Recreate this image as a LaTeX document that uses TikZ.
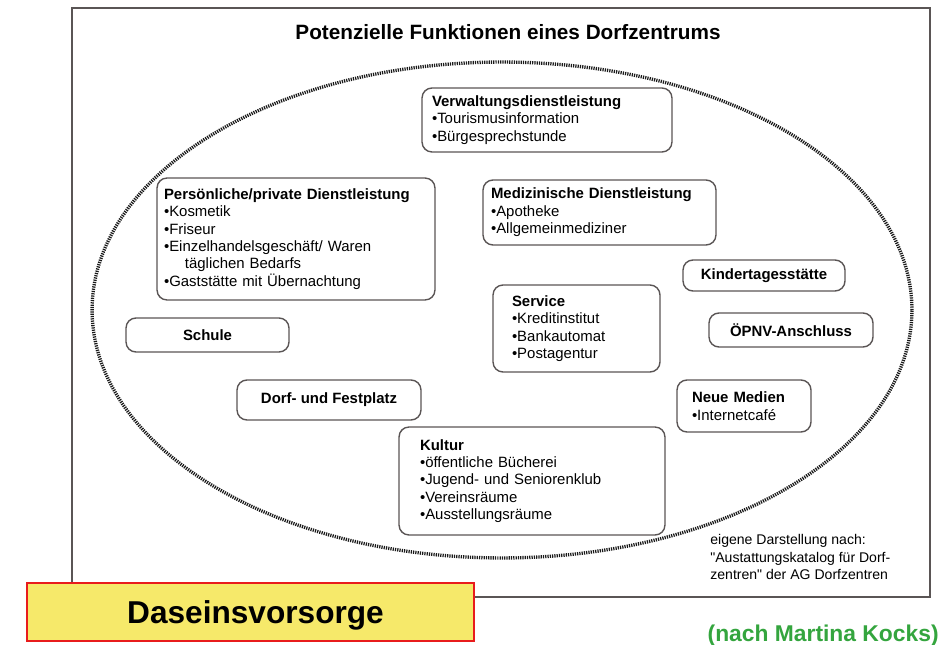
\documentclass[tikz,border=0pt]{standalone}
\usepackage{fontspec}
\setmainfont{Liberation Sans}
\usetikzlibrary{shapes.geometric,positioning}
\definecolor{boxline}{RGB}{90,85,85}
\definecolor{signyellow}{RGB}{246,233,106}
\definecolor{signred}{RGB}{232,28,28}
\definecolor{kocksgreen}{RGB}{52,165,62}
\newcommand{\itm}{\textbullet}

\begin{document}
\begin{tikzpicture}[x=0.02cm,y=-0.02cm,
    fbox/.style={draw=boxline,line width=0.8pt,rounded corners=2mm,align=left,
      font=\fontsize{8.5}{9.9}\selectfont},
    tbox/.style={draw=boxline,line width=0.8pt,rounded corners=2mm,
      font=\fontsize{8.5}{10.2}\selectfont\bfseries},
    zone/.style={ellipse,draw=black!90,line width=1.9pt,dash pattern=on 0.7pt off 0.6pt}]
        \useasboundingbox (0,0) rectangle (940,645);
        \draw[boxline,line width=0.9pt] (72,8) rectangle (930,597);
        \node[font=\fontsize{11.8}{14}\selectfont\bfseries] (title) at (508,32) {Potenzielle Funktionen eines Dorfzentrums};
        % dotted village area
        \node[zone,minimum width=16.4cm,minimum height=9.92cm] (zone) at (502,310) {};
        % boxes with lists
        \node[fbox,inner xsep=0.2cm,text width=4.6cm,minimum height=1.28cm] (verw) at (547,120)
          {\textbf{Verwaltungsdienstleistung}\\\itm Tourismusinformation\\\itm Bürgesprechstunde};
        \node[fbox,inner xsep=0.14cm,text width=5.28cm,minimum height=2.44cm] (pers) at (296,239)
          {\textbf{Persönliche/private Dienstleistung}\\\itm Kosmetik\\\itm Friseur\\
           \itm Einzelhandelsgeschäft/ Waren\\\hspace*{1.4em}täglichen Bedarfs\\\itm Gaststätte mit Übernachtung};
        \node[fbox,inner xsep=0.16cm,text width=4.34cm,minimum height=1.3cm] (med) at (599.5,212.5)
          {\textbf{Medizinische Dienstleistung}\\\itm Apotheke\\\itm Allgemeinmediziner};
        \node[fbox,inner xsep=0.38cm,text width=2.58cm,minimum height=1.74cm] (service) at (576.5,328.5)
          {\textbf{Service}\\\itm Kreditinstitut\\\itm Bankautomat\\\itm Postagentur};
        \node[fbox,inner xsep=0.3cm,text width=2.08cm,minimum height=1.04cm] (medien) at (744,406)
          {\textbf{Neue Medien}\\\itm Internetcafé};
        \node[fbox,inner xsep=0.42cm,text width=4.48cm,minimum height=2.16cm] (kultur) at (532,481)
          {\textbf{Kultur}\\\itm öffentliche Bücherei\\\itm Jugend- und Seniorenklub\\\itm Vereinsräume\\\itm Ausstellungsräume};
        % single boxes
        \node[tbox,minimum width=3.24cm,minimum height=0.62cm] (kita) at (764,275.5) {Kindertagesstätte};
        \node[tbox,minimum width=3.26cm,minimum height=0.68cm] (schule) at (207.5,335) {Schule};
        \node[tbox,minimum width=3.28cm,minimum height=0.68cm] (oepnv) at (791,330) {ÖPNV-Anschluss};
        \node[tbox,minimum width=3.68cm,minimum height=0.8cm] (platz) at (329,400) {Dorf- und Festplatz};
        % source
        \node[anchor=north west,align=left,inner sep=0pt,font=\fontsize{8}{10}\selectfont] (quelle) at (710,534)
          {eigene Darstellung nach:\\\textquotedbl Austattungskatalog für Dorf-\\zentren\textquotedbl{} der AG Dorfzentren};
        \node[draw=signred,fill=signyellow,line width=1.6pt,minimum width=8.94cm,minimum height=1.16cm,
          text depth=0pt,font=\fontsize{18}{20}\selectfont\bfseries] (dasein) at (250.5,612) {\hspace*{0.2cm}Daseinsvorsorge};
        \node[anchor=east,inner sep=0pt,text=kocksgreen,font=\fontsize{13}{15}\selectfont\bfseries] (kocks) at (939,636)
          {(nach Martina Kocks)};
\end{tikzpicture}
\end{document}
